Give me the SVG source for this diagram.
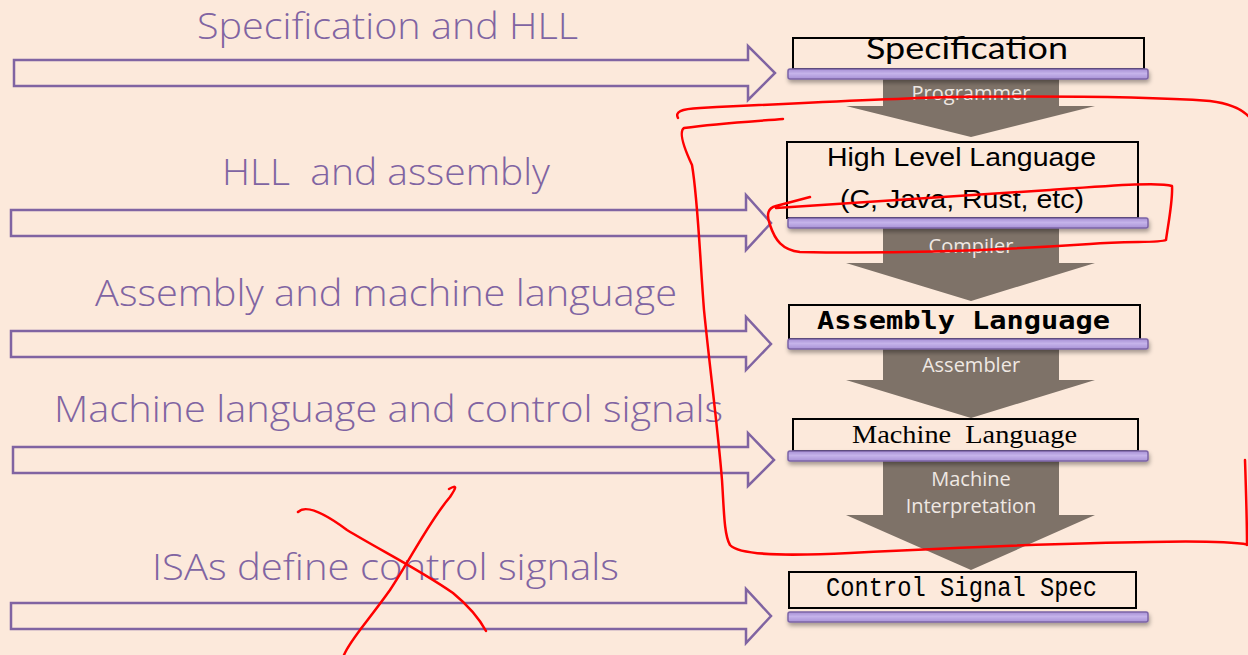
<svg xmlns="http://www.w3.org/2000/svg" width="1248" height="655" viewBox="0 0 1248 655">
  <style>
    text { white-space: pre; }
    .lbl { font-family: "Open Sans", "Noto Sans", sans-serif; font-weight: 300; font-size: 37px; fill: #8064A2; }
    .blk { fill: none; stroke: #8064A2; stroke-width: 2.5; }
    .box { fill: none; stroke: #000; stroke-width: 2; }
    .bar { fill: url(#barFill); stroke: #7C64A6; stroke-width: 1.5; filter: url(#barShadow); }
    .flow { fill: #7E7268; }
    .flowtxt { font-family: "Open Sans", "Noto Sans", sans-serif; font-size: 20px; fill: #EFE8E3; text-anchor: middle; }
    .ink { fill: none; stroke: #FF0000; stroke-width: 2.5; stroke-linecap: round; stroke-linejoin: round; }
  </style>
  <defs>
    <linearGradient id="barFill" x1="0" y1="0" x2="0" y2="1">
      <stop offset="0" stop-color="#A68FD4"/>
      <stop offset="0.45" stop-color="#C5B3EA"/>
      <stop offset="1" stop-color="#A892D6"/>
    </linearGradient>
    <filter id="barShadow" x="-5%" y="-60%" width="110%" height="260%">
      <feDropShadow dx="1" dy="3" stdDeviation="2" flood-color="#000" flood-opacity="0.35"/>
    </filter>
  </defs>

  <rect x="0" y="0" width="1248" height="655" fill="#FCE9DB"/>

  <!-- left-hand block arrows with their captions -->
  <g id="pair-spec-hll">
    <text class="lbl" x="197" y="39" font-size="33" textLength="381" lengthAdjust="spacingAndGlyphs">Specification and HLL</text>
    <path class="blk" d="M14,60 H748 V46 L775,73 L748,100 V86 H14 Z"/>
  </g>
  <g id="pair-hll-asm">
    <text class="lbl" x="222" y="185" textLength="328" lengthAdjust="spacingAndGlyphs">HLL  and assembly</text>
    <path class="blk" d="M11,210 H746 V195 L771,223 L746,250 V236 H11 Z"/>
  </g>
  <g id="pair-asm-ml">
    <text class="lbl" x="95" y="306" textLength="582" lengthAdjust="spacingAndGlyphs">Assembly and machine language</text>
    <path class="blk" d="M11,331 H746 V317 L771,344 L746,370 V357 H11 Z"/>
  </g>
  <g id="pair-ml-ctrl">
    <text class="lbl" x="54" y="422" textLength="669" lengthAdjust="spacingAndGlyphs">Machine language and control signals</text>
    <path class="blk" d="M13,447 H748 V433 L774,460 L748,486 V473 H13 Z"/>
  </g>
  <g id="pair-isa">
    <text class="lbl" x="152" y="580" textLength="467" lengthAdjust="spacingAndGlyphs">ISAs define control signals</text>
    <path class="blk" d="M11,603 H746 V589 L771,616 L746,643 V629 H11 Z"/>
  </g>

  <!-- downward translation arrows between levels -->
  <g id="connectors">
    <polygon class="flow" points="883,79 1059,79 1059,106 1095,106 971,137 846,106 883,106"/>
    <text class="flowtxt" x="971" y="100">Programmer</text>
    <polygon class="flow" points="883,228 1059,228 1059,263 1095,263 971,301 846,263 883,263"/>
    <text class="flowtxt" x="971" y="253">Compiler</text>
    <polygon class="flow" points="883,349 1059,349 1059,380 1095,380 971,418 846,380 883,380"/>
    <text class="flowtxt" x="971" y="372">Assembler</text>
    <polygon class="flow" points="883,461 1059,461 1059,515 1095,515 971,570 846,515 883,515"/>
    <text class="flowtxt" x="971" y="486">Machine</text>
    <text class="flowtxt" x="971" y="513">Interpretation</text>
  </g>

  <!-- abstraction levels -->
  <g id="spec">
    <rect class="box" x="793" y="38" width="351" height="31"/>
    <text x="866" y="59" textLength="202" lengthAdjust="spacingAndGlyphs" font-family="Lato, 'Noto Sans', sans-serif" font-size="31" fill="#000">Specification</text>
    <rect class="bar" x="788" y="69" width="360" height="10" rx="2"/>
  </g>
  <g id="hll">
    <rect class="box" x="787" y="142" width="351" height="76"/>
    <text x="827" y="166" textLength="269" lengthAdjust="spacingAndGlyphs" font-family="'Liberation Sans', Arial, sans-serif" font-size="26" fill="#000">High Level Language</text>
    <text x="840" y="208" textLength="244" lengthAdjust="spacingAndGlyphs" font-family="'Liberation Sans', Arial, sans-serif" font-size="26" fill="#000">(C, Java, Rust, etc)</text>
    <rect class="bar" x="788" y="218" width="360" height="10" rx="2"/>
  </g>
  <g id="asm">
    <rect class="box" x="789" y="305" width="351" height="34"/>
    <text x="817" y="329" textLength="293" lengthAdjust="spacingAndGlyphs" font-family="'DejaVu Sans Mono', monospace" font-weight="bold" font-size="25" fill="#000">Assembly Language</text>
    <rect class="bar" x="788" y="339" width="360" height="10" rx="2"/>
  </g>
  <g id="machine">
    <rect class="box" x="793" y="419" width="345" height="32"/>
    <text x="852" y="443" textLength="225" lengthAdjust="spacingAndGlyphs" font-family="'Liberation Serif', 'Times New Roman', serif" font-size="26" fill="#000">Machine  Language</text>
    <rect class="bar" x="788" y="451" width="360" height="10" rx="2"/>
  </g>
  <g id="control">
    <rect class="box" x="789" y="572" width="347" height="36"/>
    <text x="826" y="596" textLength="271" lengthAdjust="spacingAndGlyphs" font-family="'Liberation Mono', monospace" font-size="27" fill="#000">Control Signal Spec</text>
    <rect class="bar" x="788" y="612" width="360" height="10" rx="2"/>
  </g>

  <!-- hand-drawn red markup -->
  <g id="markup">
    <path class="ink" d="M678,118 C675,112 680,109 700,108 C780,104 880,99 950,97 C1050,96 1150,97 1210,101 C1235,104 1245,112 1250,118"/>
    <path class="ink" d="M783,119 C760,121 720,123 684,128 C678,132 685,150 692,165 C698,200 700,260 704,310 C710,370 718,430 722,480 C724,510 724,535 730,545 C740,556 790,556 850,553 C950,548 1050,543 1150,542 C1200,541 1235,542 1250,545"/>
    <path class="ink" d="M1245,460 C1246,490 1247,520 1247,545"/>
    <path class="ink" d="M810,197 L776,206 C768,208 766,214 770,225 C775,240 782,250 800,252 C900,254 1000,250 1090,244 C1130,241 1160,243 1166,240 C1168,225 1173,200 1172,186 C1160,182 1120,185 1050,190 C950,197 860,203 776,208"/>
    <path class="ink" d="M298,512 C305,505 320,510 347,530 C380,550 420,570 453,593 C470,607 480,620 486,631"/>
    <path class="ink" d="M344,655 C350,640 365,625 390,590 C410,560 430,520 450,497 C456,488 458,484 449,489"/>
  </g>
</svg>
